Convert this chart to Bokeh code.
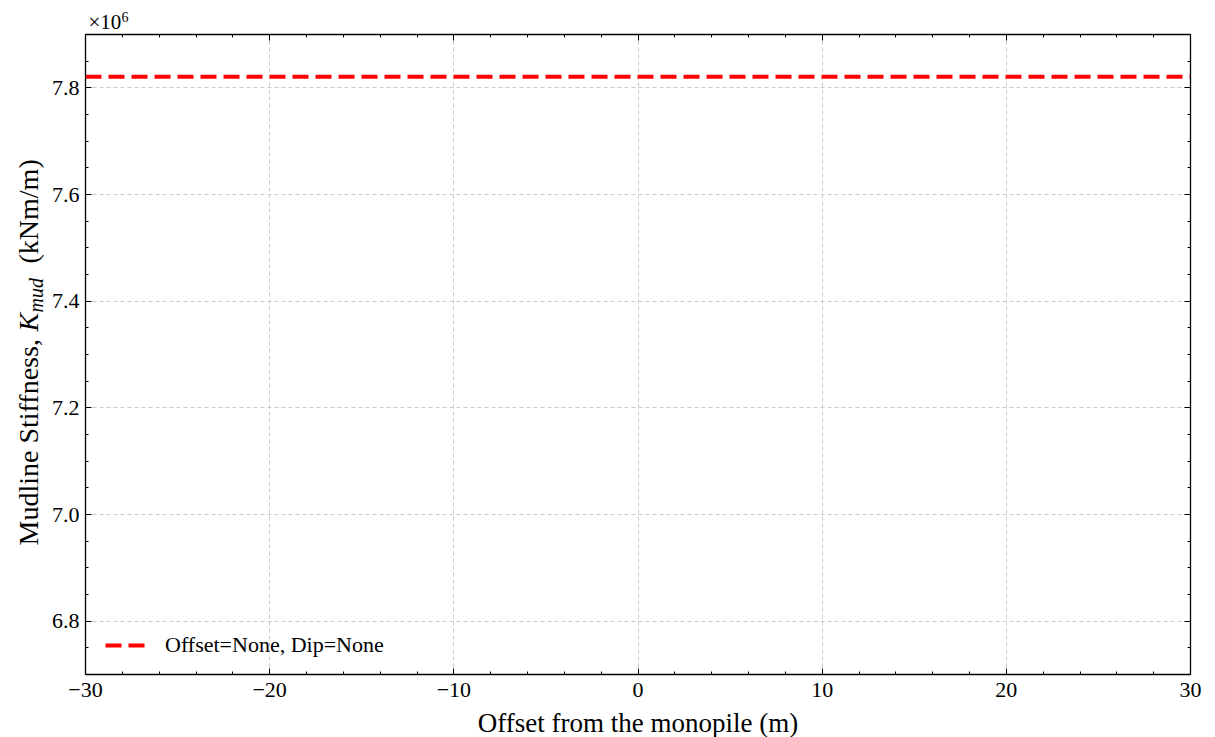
import numpy as np
from bokeh.plotting import figure
from bokeh.layouts import row, column
from bokeh.models import Range1d, LinearAxis, FixedTicker, CustomJSTickFormatter, Label
from bokeh.embed import file_html
from bokeh.resources import INLINE

# Mudline stiffness against offset from the monopile
offset_m = [-30, 30]
k_mud = [7.821e6, 7.821e6]
series_label = "Offset=None, Dip=None"

# Tick positions
x_major = [-30, -20, -10, 0, 10, 20, 30]
x_minor = list(np.arange(-30, 30.1, 2))
y_major = [6.8e6, 7.0e6, 7.2e6, 7.4e6, 7.6e6, 7.8e6]
y_minor = list(np.arange(6.7e6, 7.9001e6, 0.05e6))

SERIF = "Liberation Serif"
TICK_SIZE = "22px"
W_TOTAL, H_TOTAL = 1215, 737
W_SIDE = 47    # strip with the rotated y-axis title
H_TOP = 33     # strip with the scale factor
H_BOTTOM = 30  # strip with the x-axis title
W_MAIN = W_TOTAL - W_SIDE
H_MAIN = H_TOTAL - H_TOP - H_BOTTOM
FRAME_LEFT, FRAME_RIGHT, FRAME_TOP, FRAME_BOTTOM = 85, 1190, 34, 674


def text_strip(width, height):
    """Blank figure whose frame fills it, used to hold free text."""
    f = figure(width=width, height=height,
               x_range=Range1d(0, width), y_range=Range1d(0, height),
               x_axis_type=None, y_axis_type=None,
               output_backend="svg", toolbar_location=None,
               min_border=0, min_border_left=0, min_border_right=0,
               min_border_top=0, min_border_bottom=0)
    f.grid.visible = False
    f.outline_line_color = None
    f.background_fill_color = "white"
    f.border_fill_color = "white"
    f.title.visible = False
    return f


p = figure(
    width=W_MAIN, height=H_MAIN,
    x_range=Range1d(-30, 30), y_range=Range1d(6.7e6, 7.9e6),
    output_backend="svg", toolbar_location=None,
    min_border_left=FRAME_LEFT - W_SIDE, min_border_right=W_TOTAL - FRAME_RIGHT,
    min_border_top=FRAME_TOP - H_TOP, min_border_bottom=H_TOP + H_MAIN - FRAME_BOTTOM,
)
p.title.visible = False
p.outline_line_color = None
p.background_fill_color = "white"
p.border_fill_color = "white"

x_ticker = FixedTicker(ticks=x_major, minor_ticks=x_minor)
y_ticker = FixedTicker(ticks=y_major, minor_ticks=y_minor)

x_fmt = CustomJSTickFormatter(code="return tick < 0 ? '\u2212' + (-tick) : '' + tick;")
y_fmt = CustomJSTickFormatter(code="return (tick / 1e6).toFixed(1);")
blank_fmt = CustomJSTickFormatter(code="return '';")


def style_axis(ax, ticker, formatter, show_labels):
    ax.ticker = ticker
    ax.major_tick_in = 6
    ax.major_tick_out = 0
    ax.minor_tick_in = 3
    ax.minor_tick_out = 0
    ax.axis_line_color = "black"
    ax.axis_line_width = 1.3
    ax.major_tick_line_color = "black"
    ax.major_tick_line_width = 1
    ax.minor_tick_line_color = "black"
    ax.minor_tick_line_width = 1
    if show_labels:
        ax.formatter = formatter
        ax.major_label_text_font = SERIF
        ax.major_label_text_font_size = TICK_SIZE
        ax.major_label_text_color = "black"
        ax.major_label_standoff = 6
    else:
        # tick marks only on the top and right edges
        ax.formatter = blank_fmt
        ax.major_label_text_font_size = "0px"
        ax.major_label_standoff = 0


style_axis(p.xaxis[0], x_ticker, x_fmt, True)
style_axis(p.yaxis[0], y_ticker, y_fmt, True)
p.xaxis[0].major_label_standoff = 8

top_axis = LinearAxis()
style_axis(top_axis, x_ticker, x_fmt, False)
p.add_layout(top_axis, "above")

right_axis = LinearAxis()
style_axis(right_axis, y_ticker, y_fmt, False)
p.add_layout(right_axis, "right")

# Dashed light grid at the major ticks
p.xgrid.ticker = FixedTicker(ticks=x_major)
p.ygrid.ticker = FixedTicker(ticks=y_major)
for g in (p.xgrid[0], p.ygrid[0]):
    g.grid_line_color = "#c4c4c4"
    g.grid_line_dash = "4 3"
    g.grid_line_width = 0.9

p.line(offset_m, k_mud, line_color="#ff0000", line_width=4,
       line_dash="16 7", legend_label=series_label)

leg = p.legend[0]
leg.location = (10, 6)
leg.margin = 0
leg.padding = 10
leg.spacing = 0
leg.glyph_width = 40
leg.glyph_height = 20
leg.label_height = 20
leg.label_standoff = 20
leg.label_text_font = SERIF
leg.label_text_font_size = "22px"
leg.label_text_color = "black"
leg.border_line_alpha = 0
leg.background_fill_alpha = 0

base = dict(x_units="screen", y_units="screen", text_font=SERIF,
            text_color="black", text_baseline="alphabetic")

# y-axis title: upright text with an italic K and subscript
side = text_strip(W_SIDE, H_TOTAL)
rot = dict(angle=np.pi / 2, text_align="left", **base)
side.add_layout(Label(x=28, y=192, text="Mudline Stiffness,",
                      text_font_size="28px", **rot))
side.add_layout(Label(x=28, y=406, text="K", text_font_style="italic",
                      text_font_size="28px", **rot))
side.add_layout(Label(x=35, y=425, text="mud", text_font_style="italic",
                      text_font_size="20px", **rot))
side.add_layout(Label(x=28, y=474, text="(kNm/m)",
                      text_font_size="28px", **rot))

# Scale factor of the y values (strip frames line up with the main frame)
top = text_strip(W_MAIN, H_TOP)
top.add_layout(Label(x=3, y=12, text="\u00d710", text_align="left",
                     text_font_size="21px", **base))
top.add_layout(Label(x=36, y=17, text="6", text_align="left",
                     text_font_size="14px", **base))

# x-axis title
bottom = text_strip(W_MAIN, H_BOTTOM)
bottom.add_layout(Label(x=(FRAME_RIGHT - FRAME_LEFT) / 2, y=15,
                        text="Offset from the monopile (m)", text_align="center",
                        text_font_size="27px", **base))

layout = row(side, column(top, p, bottom, spacing=0), spacing=0)
open("out.html", "w").write(file_html(layout, INLINE))
